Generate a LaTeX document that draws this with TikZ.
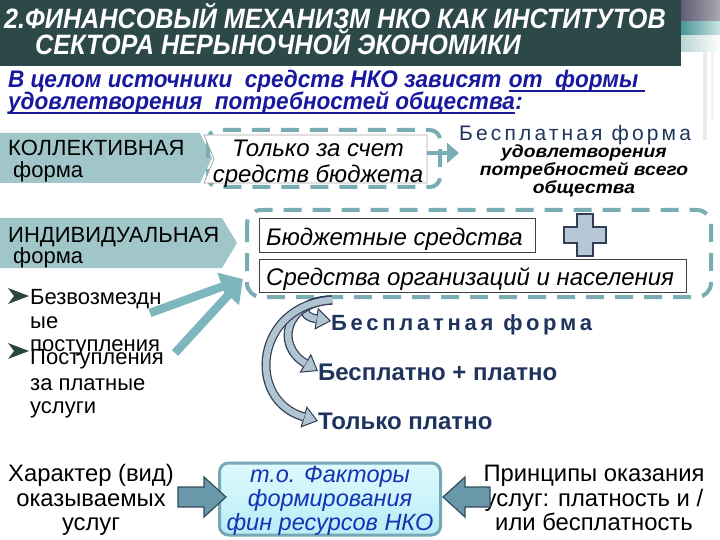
\documentclass[tikz,border=0pt]{standalone}
\usepackage{fontspec}
\setmainfont{Liberation Sans}
\newfontfamily\narfont[FakeStretch=0.9]{Liberation Sans}
\newfontfamily\subfont[FakeStretch=0.94]{Liberation Sans}
\newfontfamily\widefont[FakeStretch=1.1]{Liberation Sans}
\usetikzlibrary{arrows.meta}
\definecolor{titlebg}{RGB}{44,72,72}
\definecolor{subblue}{RGB}{25,25,160}
\definecolor{tealL}{RGB}{160,198,202}
\definecolor{dashteal}{RGB}{122,172,180}
\definecolor{navy}{RGB}{30,52,92}
\definecolor{arrteal}{RGB}{125,182,188}
\definecolor{curveL}{RGB}{176,196,210}
\definecolor{curveD}{RGB}{50,62,86}
\definecolor{blockA}{RGB}{104,152,170}
\definecolor{blockD}{RGB}{48,78,92}
\definecolor{boxtext}{RGB}{20,50,180}
\definecolor{boxdraw}{RGB}{118,168,182}
\tikzset{
  titlet/.style={anchor=base west, inner sep=0, text=white, font=\narfont\bfseries\itshape\fontsize{28}{34}\selectfont},
  subt/.style={anchor=base west, inner sep=0, text=subblue, font=\subfont\bfseries\itshape\fontsize{24}{28}\selectfont},
  plain/.style={anchor=base west, inner sep=0, font=\fontsize{22}{26}\selectfont},
  itl/.style={anchor=base west, inner sep=0, font=\itshape\fontsize{24}{28}\selectfont},
  bul/.style={anchor=base west, inner sep=0, font=\fontsize{22}{26}\selectfont},
  midt/.style={anchor=base west, inner sep=0, text=navy, font=\bfseries\fontsize{24}{28}\selectfont},
  smallit/.style={anchor=base, inner sep=0, font=\widefont\bfseries\itshape\fontsize{17.5}{20}\selectfont},
  botl/.style={anchor=base, inner sep=0, font=\fontsize{23.8}{27}\selectfont},
  boxl/.style={anchor=base, inner sep=0, text=boxtext, font=\itshape\fontsize{23.5}{27}\selectfont},
  dashbox/.style={draw=dashteal, line width=4pt, dash pattern=on 18pt off 11pt, rounded corners=10pt},
  whitebox/.style={draw=black!75, line width=1.4pt, fill=white},
  bigarrow/.style={arrteal, line width=8.5pt, -{Triangle[length=22pt,width=28pt]}},
  curvout/.style={curveD, line width=9pt, -{Triangle[length=15pt,width=22pt,line width=1pt,fill=curveL]}},
  curvin/.style={curveL, line width=6.5pt, shorten >=14.5pt},
  blockarr/.style={fill=blockA, draw=blockD, line width=1.2pt},
  bulletmark/.style={fill={rgb,255:red,40;green,72;blue,62}}
}
\begin{document}
\begin{tikzpicture}[x=1pt,y=-1pt]
\useasboundingbox (0,0) rectangle (720,540);
% title bar
\fill[titlebg] (0,0) rectangle (681,66);
\shade[left color={rgb,255:red,98;green,92;blue,114}, right color={rgb,255:red,170;green,168;blue,180}] (681,0) rectangle (720,22);
\shade[left color={rgb,255:red,70;green,150;blue,152}, right color={rgb,255:red,205;green,228;blue,228}] (681,22) rectangle (720,36);
\shade[left color={rgb,255:red,185;green,212;blue,212}, right color=white] (681,36) rectangle (720,52);
\fill[black!8] (703,52) rectangle (707,140);
\fill[black!5] (711,52) rectangle (714,120);
\node[titlet] (t1) at (4,29) {2.ФИНАНСОВЫЙ МЕХАНИЗМ НКО КАК ИНСТИТУТОВ};
\node[titlet] (t2) at (35,55) {СЕКТОРА НЕРЫНОЧНОЙ ЭКОНОМИКИ};
% subtitle
\node[subt] (s1) at (8,88) {В целом источники\ \ средств НКО зависят};
\node[subt, xshift=7pt] (s1u) at (s1.base east) {от\ \ формы\ \ };
\node[subt] (s2) at (8,110) {удовлетворения\ \ потребностей общества};
\node[subt] (s2c) at (s2.base east) {:};
\draw[subblue, line width=1.3pt] ([yshift=-3pt]s1u.base west) -- ([yshift=-3pt]s1u.base east);
\draw[subblue, line width=1.3pt] ([yshift=-3pt]s2.base west) -- ([yshift=-3pt]s2.base east);
% collective form
\fill[tealL] (0,133) -- (200,133) -- (212,158) -- (200,183) -- (0,183) -- cycle;
\node[plain] (kol) at (8,156) {КОЛЛЕКТИВНАЯ};
\node[plain] (kolf) at (13,178) {форма};
% only budget box
\draw[dashbox] (208,130) rectangle (440,187);
\filldraw[fill=white, draw=black!35, line width=0.8pt] (204,135) -- (427,135) -- (427,183) -- (204,183) -- (214,159) -- cycle;
\node[itl, anchor=base] (bud1) at (318,157) {Только за счет};
\node[itl, anchor=base] (bud2) at (318,183) {средств бюджета};
\node[anchor=base west, inner sep=0, text=navy, font=\fontsize{21}{25}\selectfont\addfontfeature{LetterSpace=15}] (free1) at (459,141) {Бесплатная форма};
\node[smallit] (free2) at (584,158) {удовлетворения};
\node[smallit] (free3) at (584,176) {потребностей всего};
\node[smallit] (free4) at (584,194) {общества};
\draw[dashteal, line width=4pt, -{Triangle[length=12pt,width=20pt]}] (427,153) -- (free1.west |- 0,153);
% individual form
\fill[tealL] (0,218) -- (222,218) -- (237,243) -- (222,268) -- (0,268) -- cycle;
\node[plain] (ind) at (8,242) {ИНДИВИДУАЛЬНАЯ};
\node[plain] (indf) at (13,263) {форма};
% big dashed box
\draw[dashbox, rounded corners=14pt] (247,210) rectangle (711,297);
\node[whitebox, minimum width=276pt, minimum height=34pt, anchor=north west] (bs) at (259,218) {};
\node[itl, anchor=base west] (bst) at (266,245) {Бюджетные средства};
\node[whitebox, minimum width=427pt, minimum height=33pt, anchor=north west] (so) at (259,259) {};
\node[itl, anchor=base west] (sot) at (266,285) {Средства организаций и населения};
\filldraw[fill={rgb,255:red,182;green,200;blue,214}, draw=curveD, line width=1.2pt]
  (577,214) -- (593,214) -- (593,227) -- (606,227) -- (606,243) -- (593,243) -- (593,256) -- (577,256) -- (577,243) -- (564,243) -- (564,227) -- (577,227) -- cycle;
% bullets
\fill[bulletmark] (8,288) -- (29,296) -- (8,304) -- (14,296) -- cycle;
\node[bul] (b1) at (30,304) {Безвозмездн};
\node[bul] (b1b) at (30,328) {ые};
\node[bul] (b1c) at (30,351) {поступления};
\fill[bulletmark] (8,343) -- (29,351) -- (8,359) -- (14,351) -- cycle;
\node[bul] (b2) at (30,364) {Поступления};
\node[bul] (b2b) at (30,390) {за платные};
\node[bul] (b2c) at (30,413) {услуги};
% teal arrows
\coordinate (conv) at (243,279);
\draw[bigarrow] (150,313) -- (conv);
\draw[bigarrow] (175,353) -- (conv);
% curved arrows
\node[midt, font=\bfseries\fontsize{22}{26}\selectfont\addfontfeature{LetterSpace=17}] (m1) at (331,330) {Бесплатная форма};
\node[midt] (m2) at (318,380) {Бесплатно + платно};
\node[midt] (m3) at (318,429) {Только платно};
\coordinate (c0) at (332,300);
\draw[curvout] (c0) .. controls (300,300) and (298,316) .. (m1.west |- 0,321);
\draw[curvin] (c0) .. controls (300,300) and (298,316) .. (m1.west |- 0,321);
\draw[curvout] (c0) .. controls (285,302) and (275,345) .. (m2.west |- 0,371);
\draw[curvin] (c0) .. controls (285,302) and (275,345) .. (m2.west |- 0,371);
\draw[curvout] (c0) .. controls (255,305) and (245,400) .. (m3.west |- 0,421);
\draw[curvin] (c0) .. controls (255,305) and (245,400) .. (m3.west |- 0,421);
% bottom row
\node[botl] (h1) at (91,481) {Характер (вид)};
\node[botl] (h2) at (91,506) {оказываемых};
\node[botl] (h3) at (91,530) {услуг};
\node[draw=boxdraw, line width=3pt, rounded corners=9pt, top color={rgb,255:red,222;green,250;blue,253}, bottom color={rgb,255:red,185;green,236;blue,246}, minimum width=221pt, minimum height=72pt] (fac) at (330,499) {};
\node[boxl] (f1) at (330,482) {т.о. Факторы};
\node[boxl] (f2) at (330,506) {формирования};
\node[boxl] (f3) at (330,530) {фин ресурсов НКО};
\node[botl] (p1) at (594,481) {Принципы оказания};
\node[botl] (p2) at (594,506) {услуг: платность и /};
\node[botl] (p3) at (594,530) {или бесплатность};
\filldraw[blockarr] (178,487) -- (204,487) -- (204,477) -- (226,497) -- (204,517) -- (204,507) -- (178,507) -- cycle;
\filldraw[blockarr] (490,487) -- (465,487) -- (465,477) -- (443,497) -- (465,517) -- (465,507) -- (490,507) -- cycle;
\end{tikzpicture}
\end{document}
